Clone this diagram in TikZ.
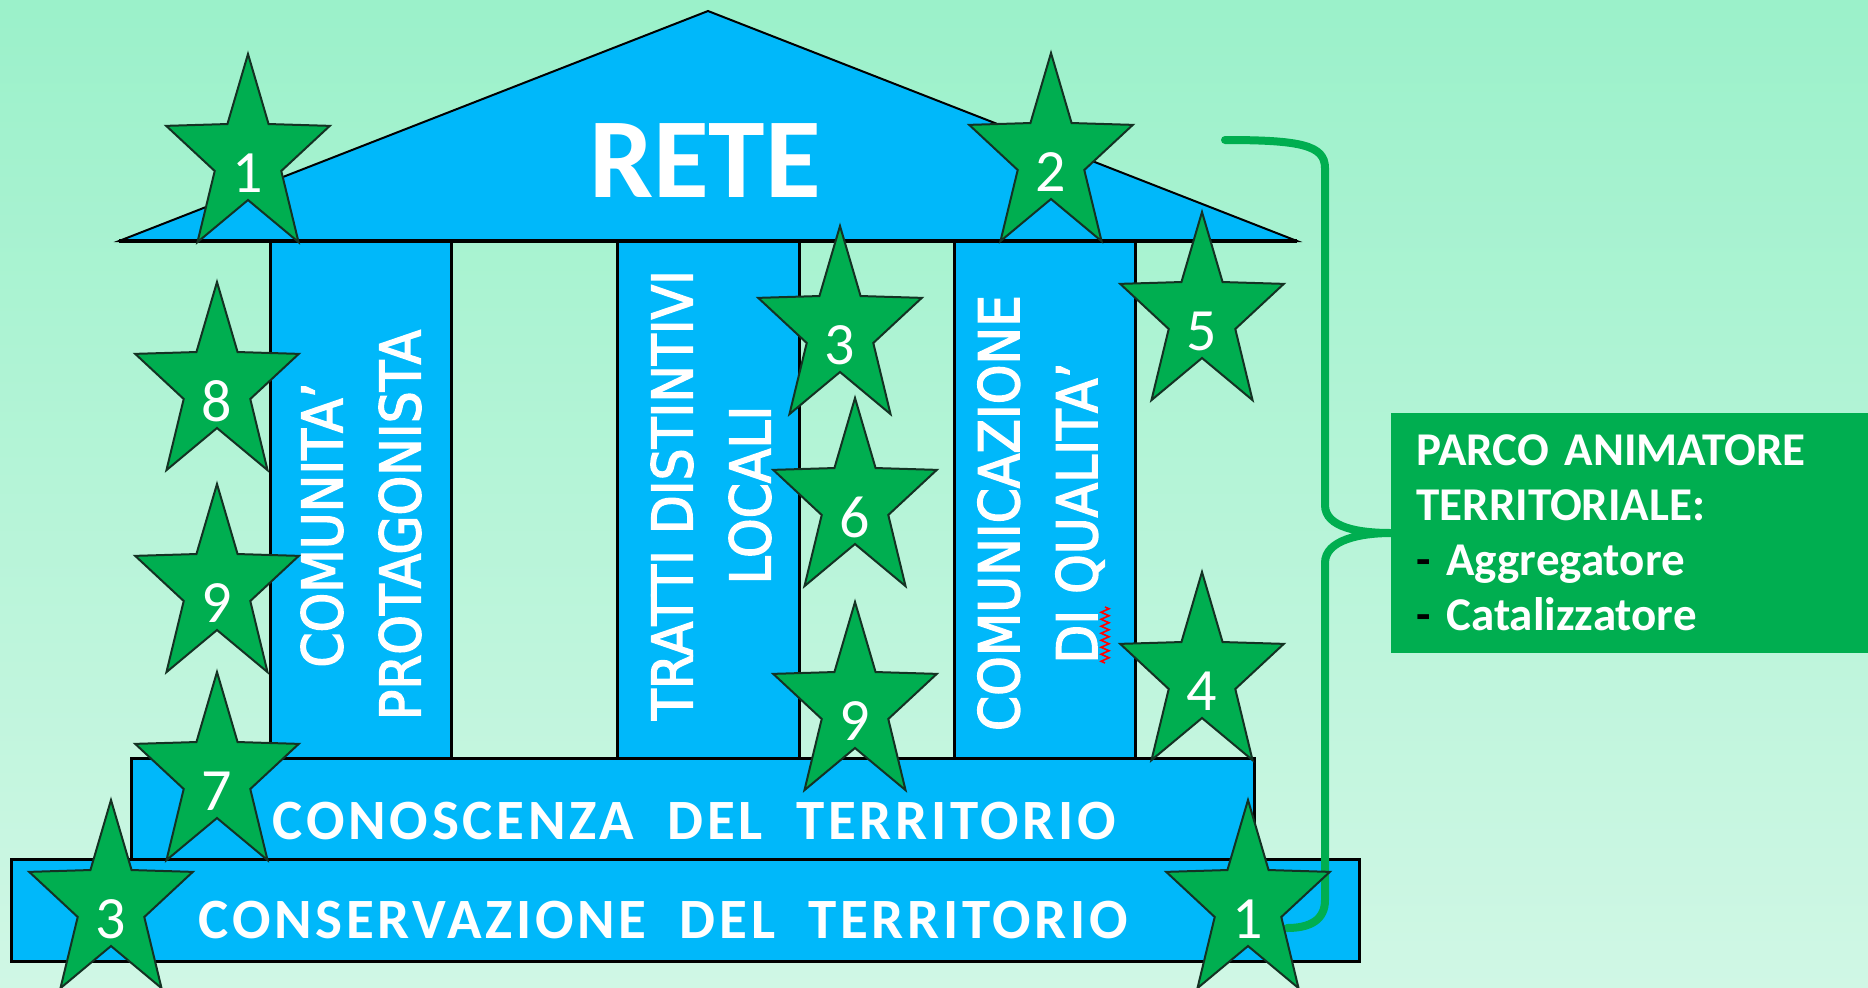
\documentclass[tikz,border=0pt]{standalone}
\usepackage{fontspec}
\setmainfont{Carlito}
\newfontfamily\pillarfont[FakeStretch=0.9,FakeBold=2.5]{DejaVu Sans}
\newfontfamily\basefont[LetterSpace=6.5]{Carlito}
\usetikzlibrary{positioning,decorations.pathmorphing}
\definecolor{skyblue}{RGB}{0,184,250}
\definecolor{parkgreen}{RGB}{0,174,80}
\definecolor{staredge}{RGB}{20,50,35}
\definecolor{bgtop}{RGB}{155,241,202}
\definecolor{bgbot}{RGB}{208,247,229}

\begin{document}
\begin{tikzpicture}[x=0.5pt,y=-0.5pt,
  block/.style={draw=black,line width=1.5pt,fill=skyblue},
  pillartext/.style={text=white,align=center,inner sep=0pt,font=\pillarfont\fontsize{28}{39}\selectfont},
  basetext/.style={text=white,inner sep=0pt,font=\basefont\bfseries\fontsize{28.5}{30}\selectfont},
  starnum/.style={text=white,inner sep=0pt,font=\fontsize{30}{32}\selectfont},
  infobox/.style={fill=parkgreen,text=white,align=left,anchor=west,minimum width=260pt,minimum height=120pt,
    text width=235pt,inner xsep=10pt,font=\bfseries\fontsize{23.5}{27.5}\selectfont},
  stellina/.pic={\draw[fill=parkgreen,draw=staredge,line width=1pt]
    (-90:86 and 104) -- (-54:35 and 42) -- (-18:86 and 104) -- (18:35 and 42) -- (54:86 and 104) --
    (90:35 and 42) -- (126:86 and 104) -- (162:35 and 42) -- (198:86 and 104) -- (234:35 and 42) -- cycle;}]
\useasboundingbox (0,0) rectangle (1868,987);
\clip (0,0) rectangle (1868,987);
\fill[top color=bgtop,bottom color=bgbot] (0,0) rectangle (1868,987);

% tempio
\draw[fill=skyblue,draw=black,line width=1pt] (119,241) -- (708,11) -- (1297,241) -- cycle;
\draw[block] (270,241) rectangle (451,758);
\draw[block] (617,241) rectangle (799,758);
\draw[block] (954,241) rectangle (1135,758);
\draw[line width=2pt] (119,241) -- (1297,241);
\draw[block] (131,758) rectangle (1254,859);
\draw[block] (11,859) rectangle (1359,961);

\node[text=white,anchor=base,inner sep=0pt,font=\bfseries\fontsize{57}{60}\selectfont] (rete) at (705,197) {RETE};
\node[pillartext,rotate=90] (comunita) at (361,525) {COMUNITA’\\PROTAGONISTA};
\node[pillartext,rotate=90] (tratti) at (711,495) {TRATTI DISTINTIVI\\LOCALI};
\node[pillartext,rotate=90] (comunicazione) at (1041,513) {COMUNICAZIONE\\DI QUALITA’};
\node[basetext,anchor=base] (conoscenza) at (694.5,839.5) {CONOSCENZA\ \ DEL\ \ TERRITORIO};
\node[basetext,anchor=base] (conservazione) at (663.5,938) {CONSERVAZIONE\ \ DEL\ \ TERRITORIO};
\draw[red,line width=0.8pt,decorate,decoration={zigzag,segment length=3.5pt,amplitude=2pt}] (1105,607) -- (1105,663);

% parco
\node[infobox] (parco) at (1391,533) {PARCO ANIMATORE\\TERRITORIALE:\\{\color{black}-} Aggregatore\\{\color{black}-} Catalizzatore};
\coordinate (graffatop) at (1225,140);
\coordinate (graffabot) at (1287,928);
\draw[parkgreen,line width=4pt,line cap=round] (graffatop) .. controls (1300,140) and (1325,145) .. (1325,168)
  -- (1325,505) .. controls (1325,528) and (1360,533) .. (parco.west)
  .. controls (1360,533) and (1325,540) .. (1325,563)
  -- (1325,900) .. controls (1325,920) and (1310,928) .. (graffabot);

% stelle
\foreach \x/\t/\n [count=\i] in {248/54/1,1051/53/2,840/226/3,217/282/8,1202/212/5,855/398/6,
  217/484/9,217/672/7,855/602/9,1202/572/4,111/800/3,1248/800/1}{
  \pic (star\i) at (\x,\t+104) {stellina};
  \node[starnum] (num\i) at (\x,\t+119) {\n};
}
\end{tikzpicture}
\end{document}
